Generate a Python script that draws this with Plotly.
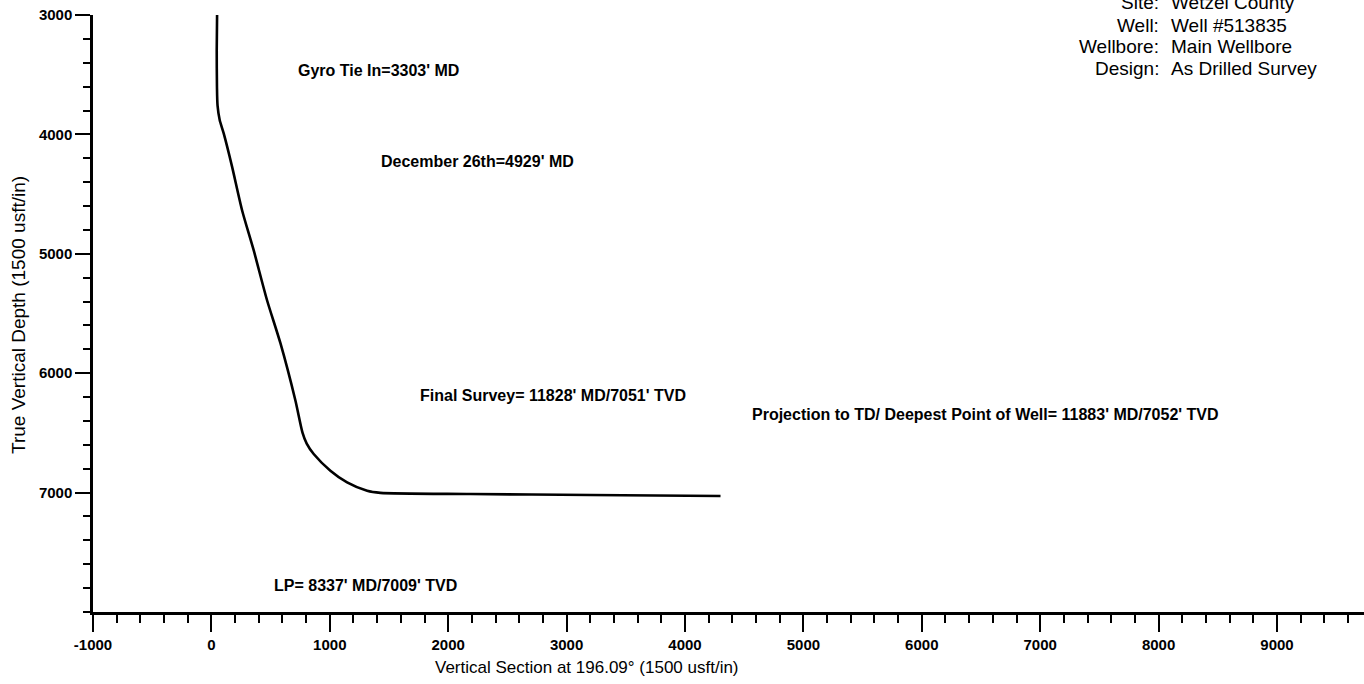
import plotly.graph_objects as go

# Wellbore trajectory (vertical section ft, true vertical depth ft)
vs = [48, 45, 47, 52, 70, 104, 175, 259, 357, 470, 583, 709, 770, 805, 864, 1005, 1146, 1315, 1427, 2188, 3200, 4300]
tvd = [3000, 3300, 3600, 3760, 3880, 3992, 4272, 4635, 4970, 5389, 5749, 6227, 6500, 6590, 6677, 6817, 6915, 6985, 7002, 7012, 7020, 7028]

x_ticks = [-1000, 0, 1000, 2000, 3000, 4000, 5000, 6000, 7000, 8000, 9000]
y_ticks = [3000, 4000, 5000, 6000, 7000]

labels = [
    ("Gyro Tie In=3303' MD", 718, 3461),
    ("December 26th=4929' MD", 1419, 4224),
    ("Final Survey= 11828' MD/7051' TVD", 1748, 6185),
    ("Projection to TD/ Deepest Point of Well= 11883' MD/7052' TVD", 4552, 6345),
    ("LP= 8337' MD/7009' TVD", 515, 7778),
]

header_keys = ["Site:", "Well:", "Wellbore:", "Design:"]
header_vals = ["Wetzel County", "Well #513835", "Main Wellbore", "As Drilled Survey"]

x_title = "Vertical Section at 196.09° (1500 usft/in)"
y_title = "True Vertical Depth (1500 usft/in)"

W, H = 1364, 684
ML, MT, MB, MR = 93, 15, 72, 0
FONT = "Liberation Sans, Arial, sans-serif"
pw = W - ML - MR
ph = H - MT - MB


def px(xp):
    return (xp - ML) / pw


def py(yp):
    return (H - MB - yp) / ph


fig = go.Figure()
fig.add_trace(go.Scatter(x=vs, y=tvd, mode="lines",
                         line=dict(color="black", width=2.6, shape="spline", smoothing=0.7),
                         hoverinfo="skip", showlegend=False))

for text, x, y in labels:
    fig.add_annotation(x=x, y=y, xref="x", yref="y", text=text, showarrow=False,
                       xanchor="left", yanchor="middle",
                       font=dict(family=FONT, size=16, color="black", weight="bold"))

row_y = [2, 25, 46.5, 68]
for k, v, ry in zip(header_keys, header_vals, row_y):
    fig.add_annotation(x=px(1161), y=py(ry), xref="paper", yref="paper", text=k,
                       showarrow=False, xanchor="right", yanchor="middle",
                       font=dict(family=FONT, size=19, color="black"))
    fig.add_annotation(x=px(1169), y=py(ry), xref="paper", yref="paper", text=v,
                       showarrow=False, xanchor="left", yanchor="middle",
                       font=dict(family=FONT, size=19, color="black"))

fig.add_annotation(x=px(587), y=py(667), xref="paper", yref="paper", text=x_title,
                   showarrow=False, xanchor="center", yanchor="middle",
                   font=dict(family=FONT, size=17, color="black"))
fig.add_annotation(x=px(18), y=py(315), xref="paper", yref="paper", text=y_title,
                   showarrow=False, xanchor="center", yanchor="middle", textangle=-90,
                   font=dict(family=FONT, size=19, color="black"))

x_end = -1000 + (W - ML) / 118.4 * 1000

fig.update_xaxes(
    range=[-1000, x_end], tickmode="array", tickvals=x_ticks,
    ticktext=[str(t) for t in x_ticks],
    ticks="outside", ticklen=17, tickwidth=2, tickcolor="black",
    showline=True, linecolor="black", linewidth=2.5, showgrid=False, zeroline=False,
    tickfont=dict(family=FONT, size=15, color="black", weight="bold"),
    minor=dict(tickmode="linear", tick0=-1000, dtick=200, ticks="outside",
               ticklen=8, tickwidth=2, tickcolor="black", showgrid=False),
)
fig.update_yaxes(
    range=[8000, 3000], tickmode="array", tickvals=y_ticks,
    ticktext=[str(t) for t in y_ticks],
    ticks="outside", ticklen=15, tickwidth=2, tickcolor="black",
    showline=True, linecolor="black", linewidth=2.5, showgrid=False, zeroline=False,
    tickfont=dict(family=FONT, size=15, color="black", weight="bold"),
    minor=dict(tickmode="linear", tick0=3000, dtick=200, ticks="outside",
               ticklen=7, tickwidth=2, tickcolor="black", showgrid=False),
)

fig.update_layout(
    width=W, height=H,
    margin=dict(l=ML, r=MR, t=MT, b=MB, pad=0),
    plot_bgcolor="white", paper_bgcolor="white",
    font=dict(family=FONT, color="black"),
    showlegend=False,
)

fig.write_html("out.html", config={"displayModeBar": False},
               post_script="document.body.style.margin='0';document.body.style.overflow='hidden';")
